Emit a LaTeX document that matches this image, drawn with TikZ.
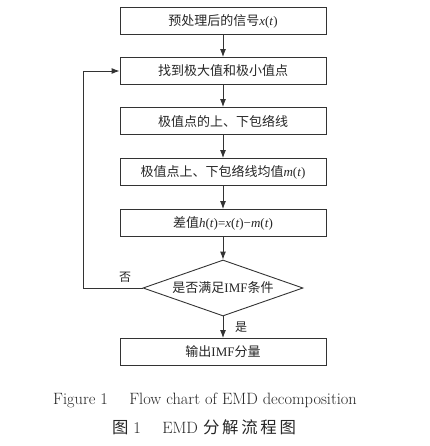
\documentclass[tikz,border=0pt]{standalone}
\usepackage{fontspec}
\newfontfamily\cjk{Noto Sans CJK SC}
\newfontfamily\tnr{Liberation Serif}
\usetikzlibrary{shapes.geometric,arrows.meta}
\begin{document}
\begin{tikzpicture}[x=1pt,y=-1pt,
  line width=0.9pt, draw=black!80, text=black!85,
  stepbox/.style={draw, rectangle, minimum width=206pt, minimum height=27pt, inner sep=0pt,
    font=\cjk\fontsize{13}{13}\selectfont},
  decide/.style={draw, diamond, aspect=2.86, minimum width=160pt, minimum height=56pt, inner sep=0pt,
    font=\cjk\fontsize{13}{13}\selectfont},
  flow/.style={-{Latex[length=8pt,width=6pt]}},
  lbl/.style={font=\cjk\fontsize{12}{12}\selectfont}]
\useasboundingbox (0,0) rectangle (429,446);
\node[stepbox] (b1) at (223,21) {预处理后的信号{\tnr\textit{x}(\textit{t})}};
\node[stepbox] (b2) at (223,71) {找到极大值和极小值点};
\node[stepbox] (b3) at (223,121) {极值点的上、下包络线};
\node[stepbox] (b4) at (223,172) {极值点上、下包络线均值{\tnr\textit{m}(\textit{t})}};
\node[stepbox] (b5) at (223,223) {差值{\tnr\textit{h}(\textit{t})=\textit{x}(\textit{t})−\textit{m}(\textit{t})}};
\node[decide] (d) at (223,288) {是否满足{\tnr IMF}条件};
\node[stepbox] (b6) at (223,352) {输出{\tnr IMF}分量};
\coordinate (c1) at (83,288);
\coordinate (c2) at (83,71);
\draw[flow] (b1) -- (b2);
\draw[flow] (b2) -- (b3);
\draw[flow] (b3) -- (b4);
\draw[flow] (b4) -- (b5);
\draw[flow] (b5) -- (d);
\draw[flow] (d) -- (b6);
\draw[flow] (d.west) -- (c1) -- (c2) -- (b2.west);
\node[lbl] (no) at (125,277) {否};
\node[lbl] (yes) at (241,327) {是};
\node[font=\fontsize{16.4}{16}\selectfont] (cap1) at (205,400) {Figure 1\quad\ Flow chart of EMD decomposition};
\node[font=\fontsize{16.4}{16}\selectfont] (cap2) at (204,427) {{\cjk 图}\ 1\quad\ EMD\ {\cjk 分\,解\,流\,程\,图}};
\end{tikzpicture}
\end{document}
